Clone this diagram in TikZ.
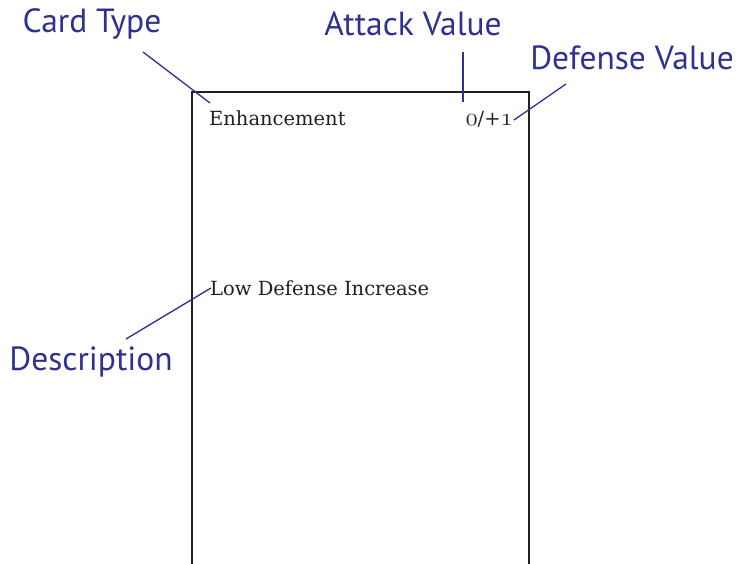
\documentclass[tikz,border=0pt]{standalone}
\usepackage{fontspec}
\usepackage{xcolor}
\usepackage{tikz}
\usetikzlibrary{positioning}
\newfontfamily\labelfont{PT Sans}
\newfontfamily\cardfont{DejaVu Serif}
\newcommand{\olddigit}[1]{{\usefont{OML}{cmm}{m}{it}#1}}
\definecolor{callblue}{HTML}{2E3192}
\definecolor{cardink}{HTML}{231F20}

\begin{document}
\begin{tikzpicture}[x=1pt, y=-1pt,
    callout/.style={font=\labelfont\fontsize{33.5}{40}\selectfont, text=callblue, inner sep=0pt},
    cardtext/.style={font=\cardfont\fontsize{19.5}{24}\selectfont, text=cardink, inner sep=0pt, anchor=base west},
    leader/.style={callblue, line width=1.3pt}]
    \useasboundingbox (0,0) rectangle (739,563);

    % 卡片
    \draw[cardink, line width=1.2pt] (192,600) -- (192,92) -- (529,92) -- (529,600);

    % 卡片文字
    \node[cardtext] (type) at (209,125) {Enhancement};
    \node[cardtext, anchor=base east] (value) at (513,125) {{\fontsize{25}{26}\selectfont\olddigit{0}}/+{\fontsize{25}{26}\selectfont\olddigit{1}}};
    \node[cardtext] (desc) at (210,295) {Low Defense Increase};

    % 标注
    \node[callout] (typelbl) at (92,24) {Card Type};
    \node[callout] (atklbl) at (413,24) {Attack Value};
    \node[callout] (deflbl) at (632,58) {Defense Value};
    \node[callout] (desclbl) at (91,362) {Description};

    % 引线端点
    \coordinate (typeA) at (143,52);   \coordinate (typeB) at (210,103);
    \coordinate (atkA) at (463,52);    \coordinate (atkB) at (463,102);
    \coordinate (defA) at (566,84);    \coordinate (defB) at (514,120);
    \coordinate (descA) at (126,339);  \coordinate (descB) at (211,288);

    % 引线
    \draw[leader] (typeA) -- (typeB);
    \draw[leader] (atkA) -- (atkB);
    \draw[leader] (defA) -- (defB);
    \draw[leader] (descA) -- (descB);
\end{tikzpicture}
\end{document}
